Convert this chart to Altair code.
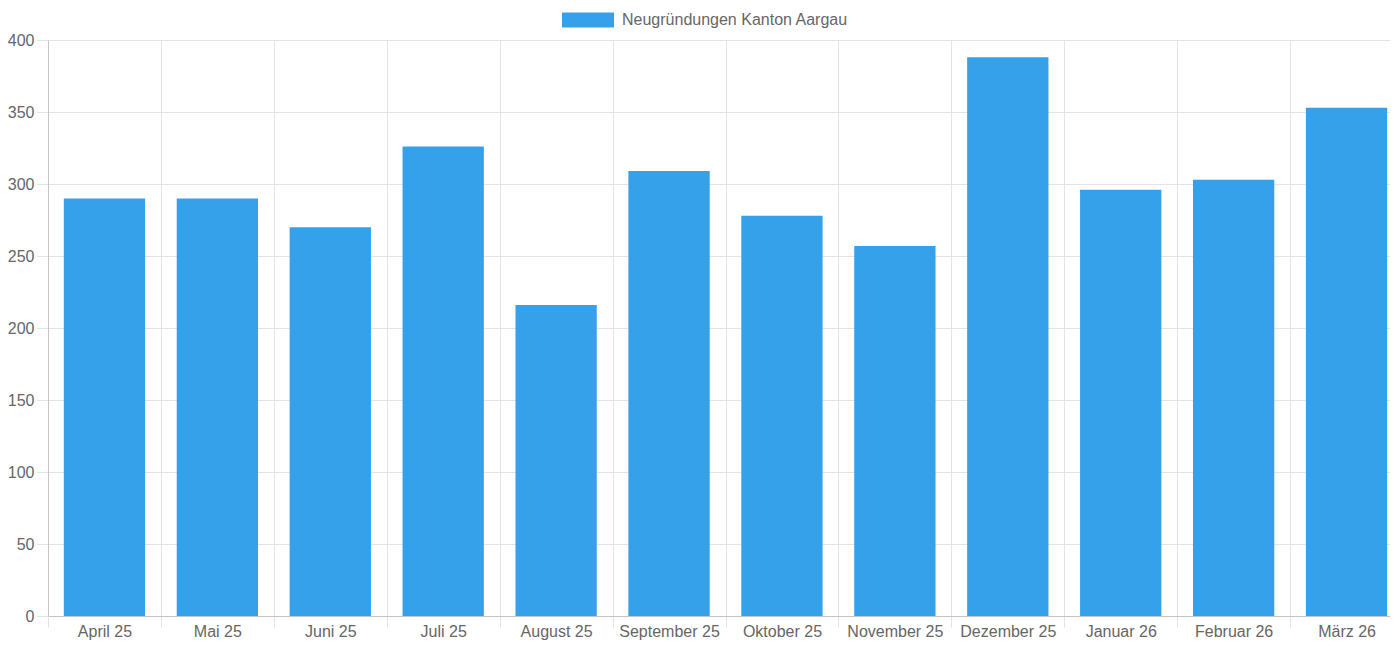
import altair as alt
import pandas as pd

months = ["April 25", "Mai 25", "Juni 25", "Juli 25", "August 25", "September 25",
          "Oktober 25", "November 25", "Dezember 25", "Januar 26", "Februar 26", "März 26"]
values = [290, 290, 270, 326, 216, 309, 278, 257, 388, 296, 303, 353]
series_name = "Neugründungen Kanton Aargau"
y_ticks = [0, 50, 100, 150, 200, 250, 300, 350, 400]
bar_color = "#35A1EA"

df = pd.DataFrame({"Monat": months, "Anzahl": values, "Serie": [series_name] * len(months)})

FONT = "Liberation Sans"
GRID = "#e3e3e3"
DOMAIN = "#c4c4c4"
LABEL = "#666666"

chart = alt.Chart(df).mark_bar(width=alt.RelativeBandSize(0.72)).encode(
    x=alt.X(
        "Monat:N", sort=months,
        scale=alt.Scale(paddingInner=0, paddingOuter=0),
        axis=alt.Axis(title=None, labelAngle=0, tickBand="extent", grid=True,
                      gridColor=GRID, tickColor=GRID, tickSize=11, labelPadding=-4,
                      domainColor=DOMAIN, labelColor=LABEL, labelFont=FONT,
                      labelFontSize=16, labelFlush=False, labelOverlap=False),
    ),
    y=alt.Y(
        "Anzahl:Q",
        scale=alt.Scale(domain=[0, 400], nice=False, zero=True),
        axis=alt.Axis(title=None, values=y_ticks, grid=True, gridColor=GRID,
                      tickColor=GRID, tickSize=11, labelPadding=3,
                      domainColor=DOMAIN, labelColor=LABEL, labelFont=FONT,
                      labelFontSize=16, labelFlush=False),
    ),
    color=alt.Color(
        "Serie:N",
        scale=alt.Scale(domain=[series_name], range=[bar_color]),
        legend=alt.Legend(title=None, orient="none", legendX=514, legendY=-46,
                          symbolType="M-1,-0.29H1V0.29H-1Z", symbolSize=2704,
                          symbolStrokeWidth=0, symbolOpacity=1,
                          labelFont=FONT, labelFontSize=16, labelColor=LABEL,
                          labelOffset=8, labelLimit=500, padding=0),
    ),
).properties(
    width=1355, height=576,
    autosize=alt.AutoSizeParams(type="none"),
    padding={"left": 40, "top": 32, "right": -13, "bottom": 24},
).configure_view(stroke="transparent")

chart.save("out.html", embed_options={"renderer": "svg", "actions": False})
